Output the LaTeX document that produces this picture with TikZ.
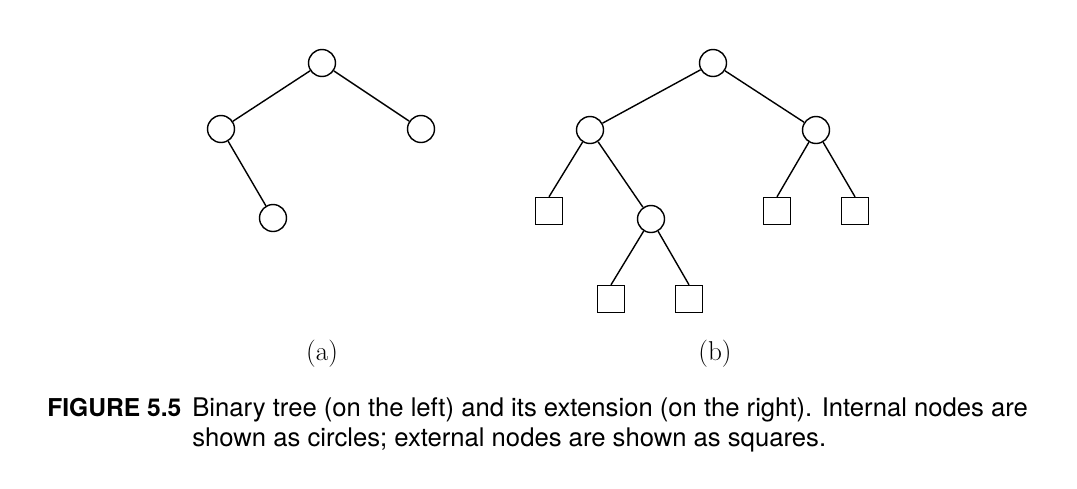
\documentclass[tikz,border=0pt]{standalone}
\usepackage{fontspec}
\newfontfamily\capfont{TeX Gyre Heros}
\usetikzlibrary{positioning}
\tikzset{
  inner/.style={draw, circle, line width=0.8pt, minimum size=0.54cm, inner sep=0pt},
  outer/.style={draw, rectangle, line width=0.8pt, minimum size=0.54cm, inner sep=0pt},
  edge/.style={line width=0.8pt}
}
\begin{document}
\begin{tikzpicture}[x=0.02cm, y=-0.02cm]
		%%%%% FRAME %%%%%
		\useasboundingbox (0, 0) rectangle (1077, 488);
		
		%%%%% TREE (a) %%%%%
		\node[inner] (a-r) at (322, 63) {};
		\node[inner] (a-l) at (221, 129) {};
		\node[inner] (a-rr) at (421, 129) {};
		\node[inner] (a-lr) at (273, 218) {};
		\draw[edge] (a-r) -- (a-l);
		\draw[edge] (a-r) -- (a-rr);
		\draw[edge] (a-l) -- (a-lr);
		
		%%%%% TREE (b) %%%%%
		\node[inner] (b-r) at (713, 63) {};
		\node[inner] (b-l) at (590, 130) {};
		\node[inner] (b-rr) at (816, 130) {};
		\node[inner] (b-lr) at (651, 219) {};
		\node[outer] (b-ll) at (549, 211) {};
		\node[outer] (b-lrl) at (611, 299) {};
		\node[outer] (b-lrr) at (689, 299) {};
		\node[outer] (b-rrl) at (777, 211) {};
		\node[outer] (b-rrr) at (855, 211) {};
		\draw[edge] (b-r) -- (b-l);
		\draw[edge] (b-r) -- (b-rr);
		\draw[edge] (b-l) -- (b-ll.north);
		\draw[edge] (b-l) -- (b-lr);
		\draw[edge] (b-lr) -- (b-lrl.north);
		\draw[edge] (b-lr) -- (b-lrr.north);
		\draw[edge] (b-rr) -- (b-rrl.north);
		\draw[edge] (b-rr) -- (b-rrr.north);
		
		%%%%% LABELS %%%%%
		\node[anchor=base, font=\fontsize{15.5}{18}\selectfont] (lab-a) at (322, 360) {(a)};
		\node[anchor=base, font=\fontsize{15.5}{18}\selectfont] (lab-b) at (715, 360) {(b)};
		
		%%%%% CAPTION %%%%%
		\node[anchor=base west, inner sep=0pt, font=\capfont\bfseries\fontsize{14}{17}\selectfont] (cap-num) at (47, 416) {FIGURE 5.5};
		\node[anchor=base west, inner sep=0pt, font=\capfont\fontsize{14.6}{17}\selectfont] (cap-1) at (192, 416) {Binary tree (on the left) and its extension (on the right). Internal nodes are};
		\node[anchor=base west, inner sep=0pt, font=\capfont\fontsize{14.6}{17}\selectfont] (cap-2) at (192, 446) {shown as circles; external nodes are shown as squares.};
\end{tikzpicture}
\end{document}
